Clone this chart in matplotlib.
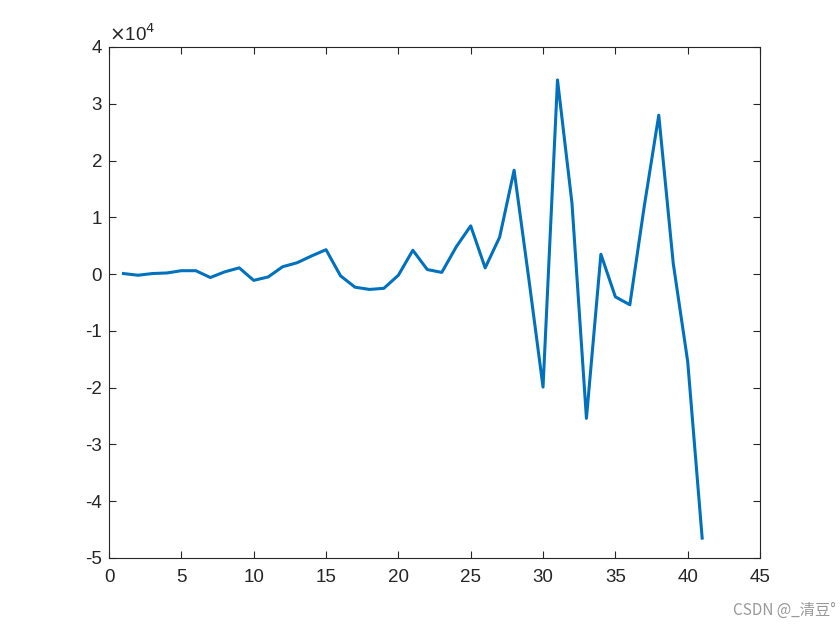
import matplotlib.pyplot as plt
from matplotlib.ticker import FuncFormatter

plt.rcParams['font.family'] = ['Liberation Sans', 'DejaVu Sans']

x = list(range(1, 42))
y = [100, -200, 100, 200, 600, 600, -600, 400, 1100, -1100,
     -500, 1300, 2000, 3200, 4300, -300, -2300, -2700, -2500, -200,
     4200, 800, 300, 4800, 8500, 1100, 6500, 18300, -500, -19900,
     34200, 12500, -25400, 3500, -4000, -5400, 12000, 28000, 1900, -15400,
     -46500]

xticks = [0, 5, 10, 15, 20, 25, 30, 35, 40, 45]
yticks = [-5e4, -4e4, -3e4, -2e4, -1e4, 0, 1e4, 2e4, 3e4, 4e4]

fig = plt.figure(figsize=(8.4, 6.3), dpi=100)
ax = fig.add_axes([0.1298, 0.1143, 0.7750, 0.8111])
ax.plot(x, y, color='#0072BD', linewidth=2.2)

ax.set_xlim(0, 45)
ax.set_ylim(-5e4, 4e4)
ax.set_xticks(xticks)
ax.set_yticks(yticks)
ax.yaxis.set_major_formatter(FuncFormatter(lambda v, p: '%d' % round(v / 1e4)))

ax.tick_params(direction='in', length=5, width=0.8, colors='#262626',
               labelsize=13.5, top=True, right=True)
ax.tick_params(axis='x', pad=8)
ax.tick_params(axis='y', pad=5)
for s in ax.spines.values():
    s.set_color('#262626')
    s.set_linewidth(0.8)

ax.text(0.0, 1.004, r'$\times$10$^{4}$', transform=ax.transAxes, fontsize=13.5,
        color='#262626', ha='left', va='bottom')

fig.text(0.995, 0.018, 'CSDN @_清豆°', fontsize=11, color='#999999', ha='right', va='bottom',
         family=['Noto Sans CJK SC', 'DejaVu Sans'])

fig.savefig('out.png', dpi=100)
